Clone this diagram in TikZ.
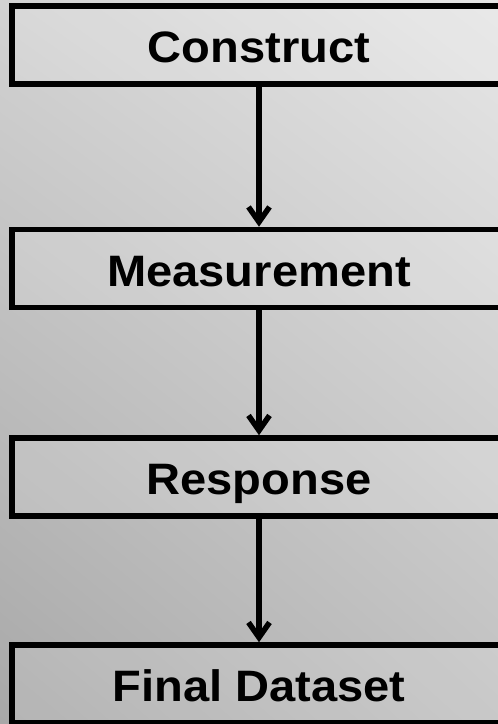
\documentclass[tikz,border=0pt]{standalone}
\usepackage{fontspec}
\setmainfont{Liberation Sans}
\usetikzlibrary{arrows.meta,shadings}
\definecolor{bgUL}{RGB}{210,210,210}
\definecolor{bgUR}{RGB}{230,230,230}
\definecolor{bgLL}{RGB}{168,168,168}
\definecolor{bgLR}{RGB}{192,192,192}
\begin{document}
\begin{tikzpicture}[x=1pt,y=1pt,
  stage/.style={draw=black, line width=5.5pt, fill=white, fill opacity=0.14,
    text opacity=1, rectangle, inner sep=0pt, minimum width=494pt,
    minimum height=78pt, text height=36pt, text depth=0pt,
    font=\fontsize{44}{50}\selectfont\bfseries},
  conn/.style={draw=black, line width=5.5pt,
    -{Straight Barb[length=15pt,width=21pt]}}]
  \useasboundingbox (0,0) rectangle (498,724);
  \clip (0,0) rectangle (498,724);
  % backdrop: bilinear grey shading, light at the upper right
  \shade[upper left=bgUL, upper right=bgUR, lower left=bgLL, lower right=bgLR]
    (0,0) rectangle (498,724);
  % stages
  \node[stage] (c) at (259,679)   {\scalebox{1.07}[1]{Construct}};
  \node[stage] (m) at (259,455.5) {\scalebox{1.07}[1]{Measurement}};
  \node[stage] (r) at (259,247)   {\scalebox{1.07}[1]{Response}};
  \node[stage] (f) at (259,40)    {\scalebox{1.07}[1]{Final Dataset}};
  % connectors
  \draw[conn] (c.south) -- (m.north);
  \draw[conn] (m.south) -- (r.north);
  \draw[conn] (r.south) -- (f.north);
\end{tikzpicture}
\end{document}
